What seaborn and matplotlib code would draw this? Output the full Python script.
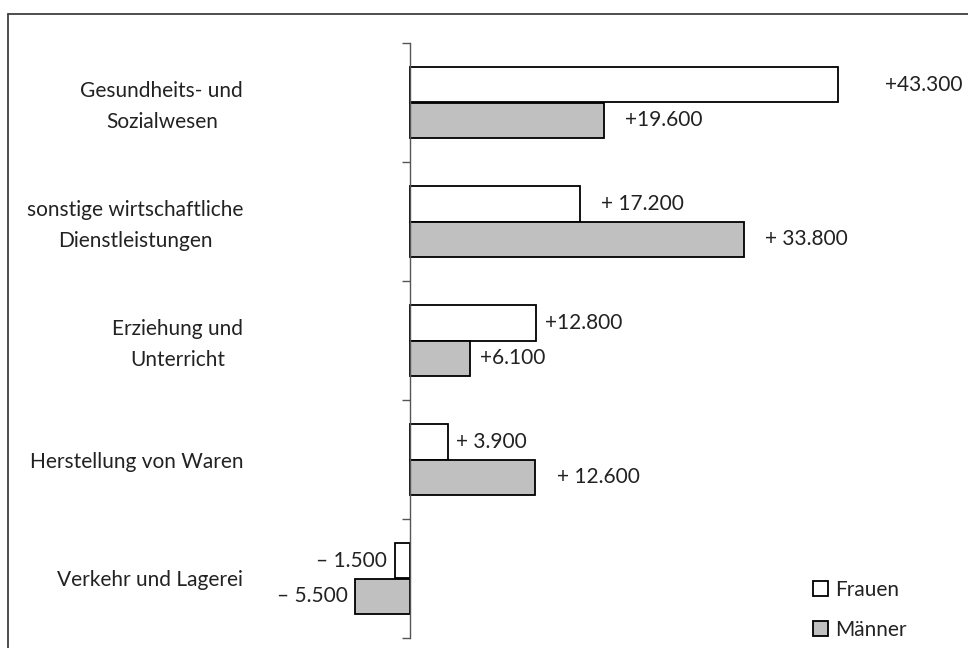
import matplotlib
matplotlib.use("Agg")
import matplotlib.pyplot as plt
import matplotlib.lines as mlines
import matplotlib.transforms as mtransforms
from matplotlib.patches import Patch
import pandas as pd
import seaborn as sns

# Employment change by sector and gender
categories = [
    "Gesundheits- und\nSozialwesen",
    "sonstige wirtschaftliche\nDienstleistungen",
    "Erziehung und\nUnterricht",
    "Herstellung von Waren",
    "Verkehr und Lagerei",
]
frauen = [43300, 17200, 12800, 3900, -1500]
maenner = [19600, 33800, 6100, 12600, -5500]
series = ["Frauen", "Männer"]

# label spacing between sign and number, and horizontal label offsets (px)
sign_gap = {"Frauen": ["", " ", "", " ", " "], "Männer": ["", " ", "", " ", " "]}
label_offset = {"Frauen": [47, 21, 9, 8, 8], "Männer": [21, 21, 10, 22, 8]}

df = pd.DataFrame({
    "Bereich": categories * 2,
    "Wert": frauen + maenner,
    "Geschlecht": [series[0]] * len(categories) + [series[1]] * len(categories),
})

sns.set_theme(style="white")
plt.rcParams["font.family"] = ["Lato", "DejaVu Sans"]
text_color = "#222222"
fs = 15

W, H = 968, 648
fig = plt.figure(figsize=(W / 100, H / 100), dpi=100)
ax = fig.add_axes([300 / W, 10 / H, 660 / W, 595 / H])

palette = {"Frauen": "white", "Männer": "#c0c0c0"}
sns.barplot(data=df, y="Bereich", x="Wert", hue="Geschlecht", order=categories,
            hue_order=series, palette=palette, orient="h", width=0.6,
            edgecolor="black", linewidth=1.3, saturation=1, ax=ax, legend=False)

ax.set_xlim(-11100, 55600)
ax.set_ylim(len(categories) - 0.5, -0.5)
ax.set_xlabel("")
ax.set_ylabel("")

for s in ["top", "right", "bottom"]:
    ax.spines[s].set_visible(False)
ax.spines["left"].set_position(("data", 0))
ax.spines["left"].set_color("#555555")
ax.spines["left"].set_linewidth(1.0)
ax.set_xticks([])

# boundary ticks between categories, labels at category centres
bounds = [i - 0.5 for i in range(len(categories) + 1)]
centers = list(range(len(categories)))
ax.set_yticks(bounds)
ax.set_yticklabels([""] * len(bounds))
ax.set_yticks(centers, minor=True)
ax.set_yticklabels(categories, minor=True)
ax.tick_params(axis="y", which="major", left=True, length=5.8, width=1.0,
               color="#555555", direction="out")
ax.tick_params(axis="y", which="minor", left=True, length=0, pad=120,
               labelsize=fs, labelcolor=text_color)
lift = mtransforms.ScaledTranslation(0, 3.5 / 100, fig.dpi_scale_trans)
for lab in ax.get_yticklabels(minor=True):
    lab.set_multialignment("center")
    lab.set_linespacing(1.7)
    if "\n" in lab.get_text():
        lab.set_transform(lab.get_transform() + lift)

# value labels
for name, container in zip(series, ax.containers):
    vals = frauen if name == "Frauen" else maenner
    for i, (bar, v) in enumerate(zip(container, vals)):
        sign = "+" if v >= 0 else "\u2013"
        num = f"{abs(v):,}".replace(",", ".")
        txt = f"{sign}{sign_gap[name][i]}{num}"
        yc = bar.get_y() + bar.get_height() / 2
        off = label_offset[name][i] * 0.72
        if v >= 0:
            ax.annotate(txt, (v, yc), xytext=(off, 0), textcoords="offset points",
                        ha="left", va="center", fontsize=fs, color=text_color)
        else:
            ax.annotate(txt, (v, yc), xytext=(-off, 0), textcoords="offset points",
                        ha="right", va="center", fontsize=fs, color=text_color)

# legend
handles = [Patch(facecolor=palette[s], edgecolor="black", linewidth=1.3, label=s)
           for s in series]
leg = fig.legend(handles=handles, loc="lower left", bbox_to_anchor=(805 / W, 0 / H),
                 frameon=False, fontsize=fs, handlelength=0.7, handleheight=0.7,
                 handletextpad=0.35, labelspacing=0.95, borderaxespad=0)
for t in leg.get_texts():
    t.set_color(text_color)

# outer frame (top and left edges)
fig.add_artist(mlines.Line2D([8 / W, 1], [1 - 14 / H, 1 - 14 / H], color="#404040",
                             lw=1.3, transform=fig.transFigure))
fig.add_artist(mlines.Line2D([8 / W, 8 / W], [0, 1 - 14 / H], color="#404040",
                             lw=1.3, transform=fig.transFigure))

fig.savefig("out.png", dpi=100)
